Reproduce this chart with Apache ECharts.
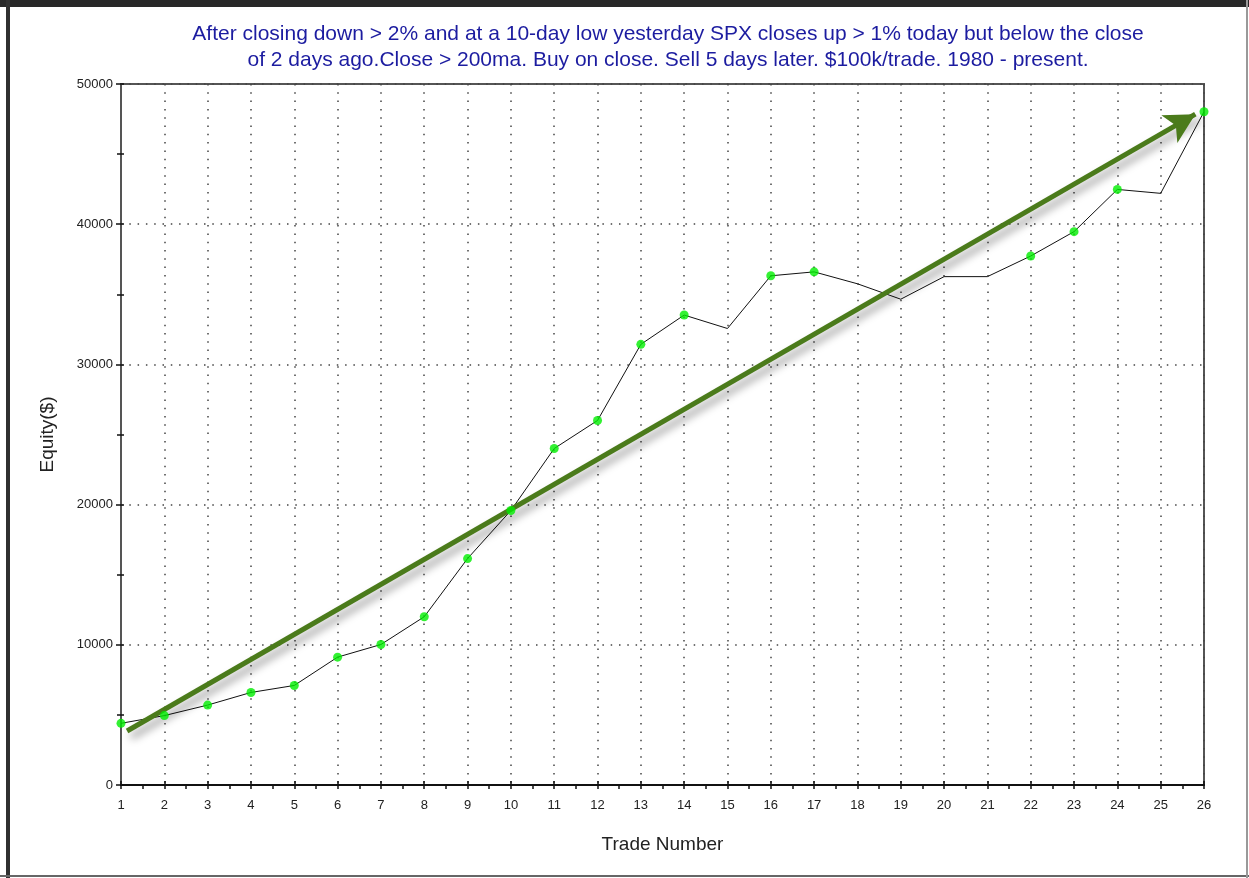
<!DOCTYPE html>
<html><head><meta charset="utf-8">
<script src="https://cdn.jsdelivr.net/npm/echarts@6/dist/echarts.min.js"></script>
<style>html,body{margin:0;padding:0;background:#fff;}#c{width:1249px;height:878px;}</style>
</head><body><div id="c"></div>
<script>
var titleLines = [
  "After closing down > 2% and at a 10-day low yesterday SPX closes up > 1% today but below the close",
  "of 2 days ago.Close > 200ma. Buy on close. Sell 5 days later. $100k/trade. 1980 - present."
];
var trades = [1,2,3,4,5,6,7,8,9,10,11,12,13,14,15,16,17,18,19,20,21,22,23,24,25,26];
var equity = [4400,4950,5700,6600,7100,9120,10020,12000,16150,19580,24000,26000,31430,33520,32560,36320,36600,35750,34650,36260,36260,37730,39470,42480,42200,48020];
var hasDot = [1,1,1,1,1,1,1,1,1,1,1,1,1,1,0,1,1,0,0,0,0,1,1,1,0,1];
var yTicks = [0,10000,20000,30000,40000,50000];
var arrowFrom = [1.14, 3850];
var arrowTo = [25.8, 47850];

var lineData = trades.map(function(t,i){ return [t, equity[i]]; });
var dotData = trades.map(function(t,i){ return hasDot[i] ? [t, equity[i]] : [t, null]; }).filter(function(d){return d[1]!==null;});

var font = "'Liberation Sans', Arial, sans-serif";
var chart = echarts.init(document.getElementById('c'));
chart.setOption({
  animation:false,
  backgroundColor:'#fff',
  title:{
    text: titleLines.join('\n'), left: 663, top: 16, textAlign:'center',
    textStyle:{color:'#1c1ca0', fontSize:21, fontWeight:'normal', fontFamily:font, lineHeight:26}
  },
  graphic:[
    {type:'rect', shape:{x:0,y:0,width:1249,height:7}, style:{fill:'#282828'}, silent:true},
    {type:'rect', shape:{x:6,y:0,width:4,height:878}, style:{fill:'#303030'}, silent:true},
    {type:'rect', shape:{x:0,y:875,width:1249,height:2}, style:{fill:'#666'}, silent:true},
    {type:'rect', shape:{x:1246,y:0,width:2,height:878}, style:{fill:'#999'}, silent:true}
  ],
  grid:{left:121, right:45, top:84, bottom:93, show:true, borderColor:'#555', borderWidth:2, containLabel:false},
  xAxis:[{
    type:'value', min:1, max:26, interval:1,
    name:'Trade Number', nameLocation:'middle', nameGap:50,
    nameTextStyle:{color:'#222', fontSize:19, fontFamily:font},
    axisLine:{show:true, lineStyle:{color:'#111', width:2}},
    axisTick:{show:true, length:4, lineStyle:{color:'#111', width:1.5}},
    minorTick:{show:true, splitNumber:2, length:4, lineStyle:{color:'#111', width:1.5}},
    axisLabel:{color:'#222', fontSize:13, fontFamily:font, margin:14},
    splitLine:{show:true, lineStyle:{color:'#444', type:[1.5,6.8], width:1.5}}
  },{
    type:'value', min:1, max:26, interval:1, position:'bottom',
    axisLine:{show:false}, axisLabel:{show:false}, splitLine:{show:false},
    axisTick:{show:true, inside:true, length:4, lineStyle:{color:'#111', width:1.5}},
    minorTick:{show:false}
  }],
  yAxis:[{
    type:'value', min:0, max:50000, interval:10000,
    name:'Equity($)', nameLocation:'middle', nameGap:64, nameRotate:90,
    nameTextStyle:{color:'#222', fontSize:19, fontFamily:font},
    axisLine:{show:true, lineStyle:{color:'#555', width:2}},
    axisTick:{show:true, length:5, lineStyle:{color:'#111', width:1.5}},
    minorTick:{show:true, splitNumber:2, length:4, lineStyle:{color:'#111', width:1.5}},
    axisLabel:{color:'#222', fontSize:13, fontFamily:font, margin:8,
      formatter:function(v){ return yTicks.indexOf(v)>=0 ? String(v) : ''; }},
    splitLine:{show:true, lineStyle:{color:'#444', type:[1.5,6.8], width:1.5}}
  },{
    type:'value', min:0, max:50000, interval:10000, position:'left',
    axisLine:{show:false}, axisLabel:{show:false}, splitLine:{show:false},
    axisTick:{show:true, inside:true, length:3, lineStyle:{color:'#111', width:1.5}},
    minorTick:{show:true, splitNumber:2, length:3, lineStyle:{color:'#111', width:1.5}}
  }],
  series:[
    {
      type:'line', data:lineData, showSymbol:false, symbol:'none',
      lineStyle:{color:'#111', width:1}, z:3,
      markLine:{
        silent:true, symbol:['none','arrow'], symbolSize:[24,30],
        label:{show:false},
        lineStyle:{color:'#4b7b1b', width:5, type:'solid', shadowColor:'rgba(0,0,0,0.4)', shadowBlur:9, shadowOffsetX:4, shadowOffsetY:6},
        data:[[{coord:arrowFrom},{coord:arrowTo}]]
      }
    },
    {
      type:'scatter', data:dotData, symbol:'circle', symbolSize:9,
      itemStyle:{color:'#00ee00'}, z:5
    }
  ]
});
</script></body></html>
